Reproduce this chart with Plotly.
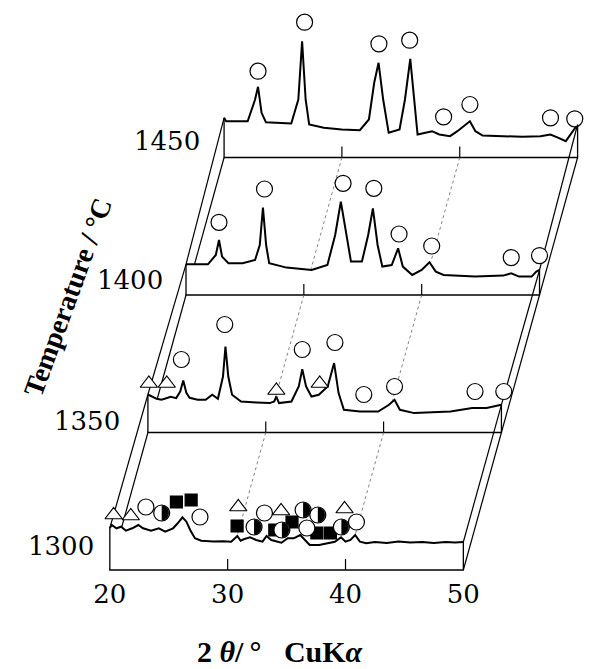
import numpy as np
import plotly.graph_objects as go

W, H = 601, 669          # browser window
PAGE_MARGIN = 8          # default body margin of the written html page
FW, FH = W - PAGE_MARGIN, H - PAGE_MARGIN

# ---------------- data ----------------
temperatures = [1300, 1350, 1400, 1450]
axis_ticks = [20, 30, 40, 50]
axis_tick_text = ["20", "30", "40", "50"]
guide_ticks = [30, 40]

two_theta_1300 = [20.0, 20.16, 20.56, 20.96, 21.36, 21.9, 22.42, 22.82, 23.5, 24.16, 24.7, 25.36, 25.76,
                  26.16, 26.5, 26.82, 27.22, 27.76, 28.8, 29.6, 30.3, 30.82, 31.1, 31.36, 31.9, 32.42,
                  32.96, 33.3, 33.7, 34.2, 34.56, 35.1, 35.6, 36.16, 36.56, 36.96, 37.76, 38.4, 39.1,
                  39.62, 40.0, 40.42, 40.82, 41.22, 41.76, 42.5, 43.5, 44.5, 45.5, 46.5, 47.5, 48.5,
                  49.3, 50.0]
intensity_1300 = [42, 45, 41.7, 43.3, 39.3, 41.7, 45, 41.7, 39.3, 41.7, 38.3, 41.7, 46.7,
                  52.7, 48.3, 40, 31.7, 29.3, 28.5, 28.8, 28.3, 34, 29.3, 30.7, 32.7, 30,
                  28.3, 34, 30, 28, 27.3, 31.7, 31.7, 35, 30, 25, 25, 26.7, 28.3,
                  32.7, 28.3, 30, 35, 28.3, 26.7, 28, 27, 28.5, 27.5, 28, 27, 28,
                  27.5, 28]

two_theta_1350 = [20.0, 20.34, 20.74, 21.16, 21.94, 22.4, 22.74, 23.0, 23.26, 23.54, 24.22, 24.9, 25.46,
                  25.94, 26.37, 26.58, 26.82, 27.14, 27.9, 29.2, 30.34, 30.72, 30.9, 31.12, 32.18, 32.8,
                  33.1, 33.42, 33.88, 34.5, 35.26, 35.8, 36.18, 36.63, 38.0, 39.54, 40.46, 40.93, 41.38,
                  42.6, 44.2, 45.68, 47.52, 48.74, 50.0]
intensity_1350 = [38, 35.7, 33.7, 32.7, 35.7, 34.4, 41, 52, 39.7, 34.7, 32.7, 32.7, 37.7,
                  33.7, 56, 86, 56, 37.7, 31, 30, 29.4, 31, 36, 29.4, 31, 46,
                  63.4, 46, 36, 37.7, 46, 69.4, 39.4, 22.7, 21, 21, 27.7, 32.7, 22.7,
                  19.4, 20.5, 21, 24.4, 24.4, 27.7]

two_theta_1400 = [20.0, 21.86, 22.53, 22.8, 23.06, 23.6, 24.8, 25.86, 26.26, 26.53, 26.8, 27.06, 28.53,
                  30.66, 32.0, 32.66, 33.14, 33.6, 34.0, 34.93, 35.46, 35.86, 36.26, 36.66, 37.46, 38.0,
                  38.4, 39.2, 40.0, 40.66, 41.2, 41.86, 44.53, 46.93, 47.6, 48.26, 49.33, 49.73, 50.0]
intensity_1400 = [30.7, 30.7, 40, 55, 38.4, 31.7, 31.7, 35, 50, 87.4, 50, 31.7, 27.4,
                  25, 30, 60, 93.4, 60, 33.4, 33.4, 60, 86.7, 50, 28.4, 30, 46.7,
                  28.4, 20, 25, 32.7, 23.4, 20, 18.4, 19.4, 21.7, 18.4, 18.4, 23.4, 25]

two_theta_1450 = [20.0, 20.18, 22.0, 22.63, 22.88, 23.18, 23.55, 25.7, 26.3, 26.62, 26.92, 27.22, 28.46,
                  29.98, 31.52, 32.29, 32.74, 33.11, 33.5, 33.97, 34.89, 35.35, 35.8, 36.12, 36.42, 37.65,
                  38.26, 39.18, 39.8, 40.86, 41.33, 41.94, 43.78, 45.31, 46.85, 47.7, 48.38, 49.0, 50.0]
intensity_1450 = [39.7, 36.3, 36.3, 58, 70.7, 44.7, 35.3, 34, 58, 116.3, 58, 33, 29.7,
                  28, 27.3, 38, 74.7, 94.7, 58, 24.7, 28, 58, 98.7, 58, 23, 26.3,
                  23, 21.3, 26.3, 36.3, 26.3, 22, 21.3, 20.7, 21.3, 23, 19.7, 16.3, 33]

# phase markers (2theta, height above the panel baseline)
circle_tt_1300 = [23.06, 27.65, 33.12, 36.72, 40.93]
circle_h_1300 = [63, 53, 57, 42, 48]
triangle_tt_1300 = [20.32, 21.78, 30.9, 34.53, 39.92]
triangle_h_1300 = [55, 54, 63, 59, 61]
square_tt_1300 = [25.65, 26.9, 30.8, 34.0, 35.46, 37.57, 38.72]
square_h_1300 = [68, 70, 44, 40, 48, 37, 37]
half_tt_1300 = [24.4, 32.24, 34.6, 36.4, 37.65, 39.65]
half_h_1300 = [57, 43, 40, 60, 55, 43]

circle_tt_1350 = [22.84, 26.52, 33.1, 35.87, 38.32, 40.93, 47.76, 50.2]
circle_h_1350 = [73, 108, 83, 90, 38, 46, 41, 41]
triangle_tt_1350 = [20.08, 21.6, 30.9, 34.58]
triangle_h_1350 = [49, 49, 42, 49]

circle_tt_1400 = [22.8, 26.66, 33.33, 35.94, 38.08, 40.85, 47.6, 50.0]
circle_h_1400 = [72.7, 106, 111.7, 106.7, 61, 49, 37.4, 39.4]

circle_tt_1450 = [22.88, 26.83, 33.14, 35.75, 38.63, 40.86, 47.7, 49.76]
circle_h_1450 = [86.3, 135.3, 113.7, 117.3, 40.7, 53, 39.7, 38.7]

spectra = [(two_theta_1300, intensity_1300), (two_theta_1350, intensity_1350),
           (two_theta_1400, intensity_1400), (two_theta_1450, intensity_1450)]
for a, b in spectra:
    assert len(a) == len(b)

markers = {
    0: dict(circle=(circle_tt_1300, circle_h_1300), triangle=(triangle_tt_1300, triangle_h_1300),
            square=(square_tt_1300, square_h_1300), half=(half_tt_1300, half_h_1300)),
    1: dict(circle=(circle_tt_1350, circle_h_1350), triangle=(triangle_tt_1350, triangle_h_1350)),
    2: dict(circle=(circle_tt_1400, circle_h_1400)),
    3: dict(circle=(circle_tt_1450, circle_h_1450)),
}

# ---------------- pseudo-3D projection (window pixel units) ----------------
X0, SX = 98.0, 12.5          # front panel: x of 20 deg, px per degree
Y0 = 570.0                   # front panel baseline
DEPTH_DX, DEPTH_DY = 40.4, 137.5   # offset per temperature step
SI = 1.0                     # px per intensity unit
TICK_LEN = 11
NUM_FONT = dict(family="DejaVu Serif", size=26, color="black")


def px(k, tt):
    return X0 + DEPTH_DX * k + (np.asarray(tt, dtype=float) - 20.0) * SX


def py(k, h):
    return Y0 - DEPTH_DY * k - np.asarray(h, dtype=float) * SI


fig = go.Figure()


def line(xs, ys, width=1.3, color="black", dash="solid"):
    fig.add_trace(go.Scatter(x=list(np.atleast_1d(xs)), y=list(np.atleast_1d(ys)), mode="lines",
                             line=dict(width=width, color=color, dash=dash),
                             hoverinfo="skip", showlegend=False))


def marker_trace(tt, h, k, symbol, fill, size):
    fig.add_trace(go.Scatter(x=list(px(k, tt)), y=list(py(k, h)), mode="markers",
                             marker=dict(symbol=symbol, size=size, color=fill,
                                         line=dict(width=1.2, color="black")),
                             cliponaxis=False, hoverinfo="skip", showlegend=False))


for k in [3, 2, 1, 0]:
    tt, inten = spectra[k]
    if k < 3:
        j = k + 1
        ttj, ij = spectra[j]
        line([px(j, 20), px(k, 20)], [py(j, ij[0]), py(k, inten[0])], 1.2)
        line([px(j, 20), px(k, 20)], [py(j, 0), py(k, 0)], 1.2)
        line([px(j, 50), px(k, 50)], [py(j, ij[-1]), py(k, inten[-1])], 1.2)
        line([px(j, 50), px(k, 50)], [py(j, 0), py(k, 0)], 1.2)
        for g in guide_ticks:
            line([px(j, g), px(k, g)], [py(j, 0), py(k, 0)], 0.8, "#666666", "dot")
    # opaque panel face
    fx = [px(k, 20)] + list(px(k, tt)) + [px(k, 50)]
    fy = [py(k, 0)] + list(py(k, inten)) + [py(k, 0)]
    fig.add_trace(go.Scatter(x=fx, y=fy, mode="lines", fill="toself", fillcolor="white",
                             line=dict(width=0, color="white"), hoverinfo="skip", showlegend=False))
    # spectrum
    line(px(k, tt), py(k, inten), 2.0)
    # panel frame
    line([px(k, 20), px(k, 20), px(k, 50), px(k, 50)],
         [py(k, inten[0]), py(k, 0), py(k, 0), py(k, inten[-1])], 1.3)
    for g in guide_ticks:
        line([px(k, g), px(k, g)], [py(k, 0), py(k, 0) - TICK_LEN], 1.2)
    # phase markers
    m = markers[k]
    if "square" in m:
        marker_trace(*m["square"], k, "square", "black", 12)
    if "half" in m:
        htt, hh = m["half"]
        marker_trace(htt, hh, k, "circle", "white", 16)
        hx, hy = [], []
        t = np.linspace(-np.pi / 2, np.pi / 2, 24)
        for cx, cy in zip(px(k, htt), py(k, hh)):
            hx += list(cx + 7.6 * np.cos(t)) + [None]
            hy += list(cy + 7.6 * np.sin(t)) + [None]
        fig.add_trace(go.Scatter(x=hx, y=hy, mode="lines", fill="toself", fillcolor="black",
                                 line=dict(width=0.5, color="black"), hoverinfo="skip",
                                 showlegend=False))
    if "circle" in m:
        marker_trace(*m["circle"], k, "circle", "white", 16)
    if "triangle" in m:
        marker_trace(*m["triangle"], k, "triangle-up", "white", 15)

# dummy trace carrying the front 2theta axis
fig.add_trace(go.Scatter(x=[20, 50], y=[Y0, Y0], xaxis="x2", yaxis="y", mode="markers",
                         marker=dict(opacity=0), hoverinfo="skip", showlegend=False))

# temperature labels
label_offsets = [(-15, -24), (-27, -12), (-22, -15), (-23, -17)]
for k, T in enumerate(temperatures):
    fig.add_annotation(x=float(px(k, 20)) + label_offsets[k][0], y=float(py(k, 0)) + label_offsets[k][1],
                       text=str(T), showarrow=False, xanchor="right", yanchor="middle",
                       font=NUM_FONT)

fig.add_annotation(x=53, y=297, text="<b>Temperature / °C</b>", textangle=-70, showarrow=False,
                   xanchor="center", yanchor="middle",
                   font=dict(family="Liberation Serif", size=28, color="black"))
fig.add_annotation(x=279, y=651,
                   text="<b>2</b>\u00a0<b><i>θ</i></b><b>/\u2009°\u00a0\u00a0\u00a0CuK</b><b><i>α</i></b>",
                   showarrow=False, xanchor="center", yanchor="middle",
                   font=dict(family="Liberation Serif", size=30, color="black"))

fig.update_layout(
    width=FW, height=FH, autosize=False,
    margin=dict(l=0, r=0, t=0, b=0, pad=0),
    paper_bgcolor="white", plot_bgcolor="rgba(0,0,0,0)",
    showlegend=False,
    xaxis=dict(range=[PAGE_MARGIN, W], visible=False, fixedrange=True),
    yaxis=dict(range=[H, PAGE_MARGIN], visible=False, fixedrange=True),
    xaxis2=dict(domain=[(X0 - PAGE_MARGIN) / FW, (X0 + 30 * SX - PAGE_MARGIN) / FW], range=[20, 50],
                anchor="free", position=(H - Y0) / FH, tickmode="array", tickvals=axis_ticks,
                ticktext=axis_tick_text, ticks="", showline=False, showgrid=False, zeroline=False,
                fixedrange=True, ticklabelstandoff=6, tickfont=NUM_FONT),
)

fig.write_html("out.html")
